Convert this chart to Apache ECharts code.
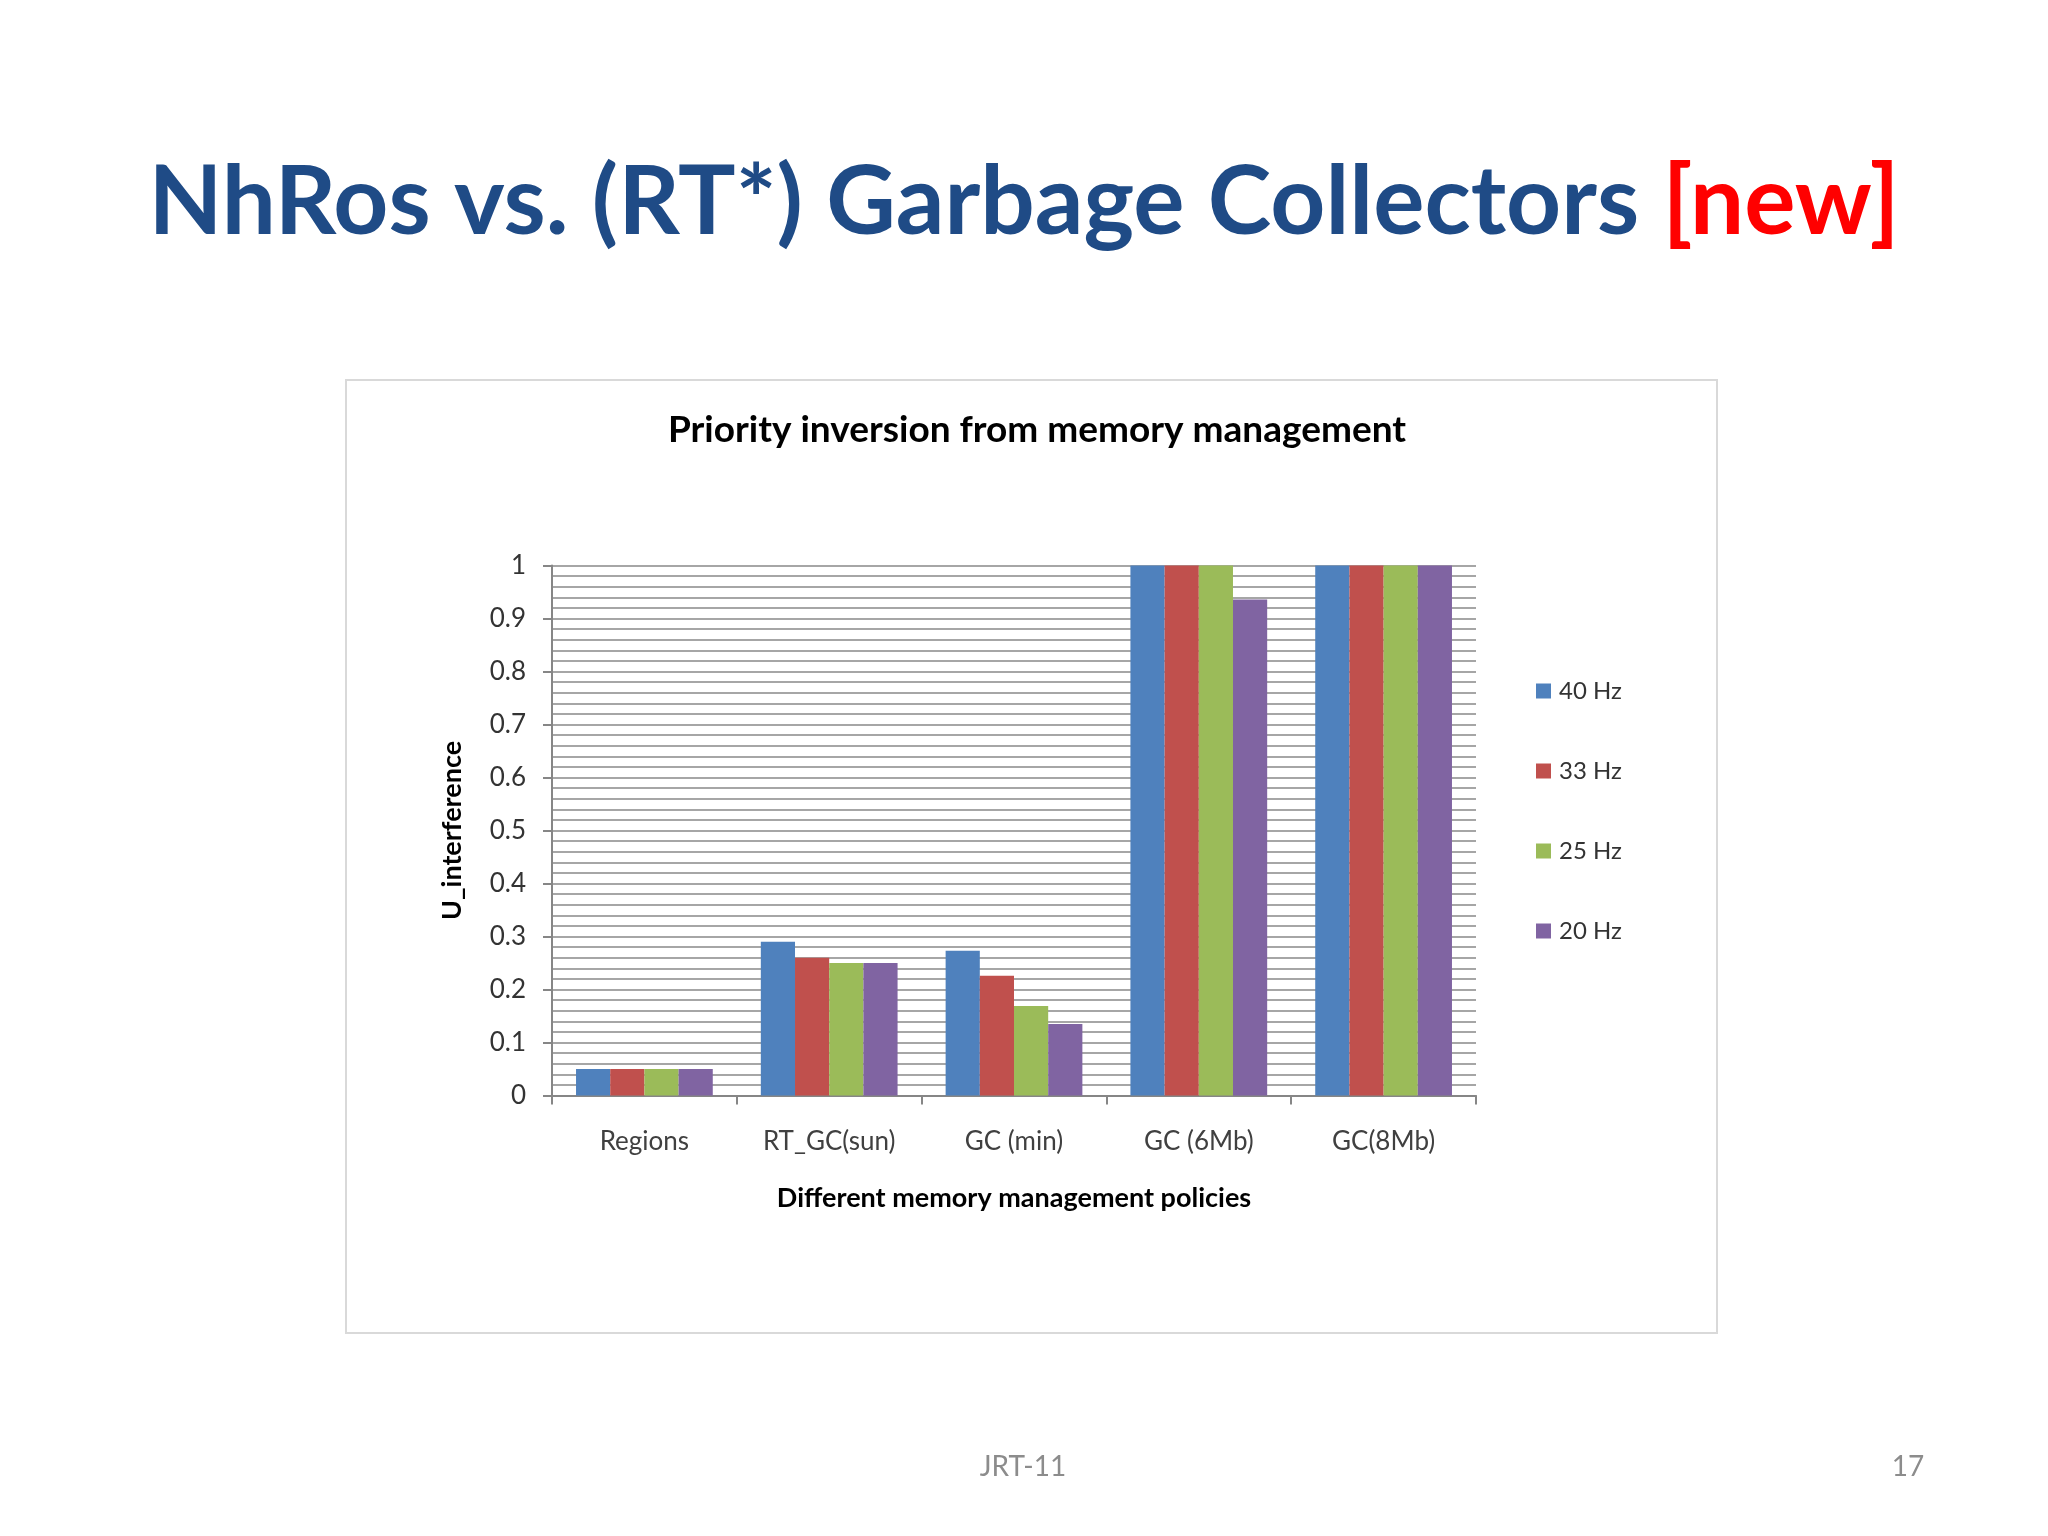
<!DOCTYPE html>
<html>
<head>
<meta charset="utf-8">
<script src="https://cdn.jsdelivr.net/npm/echarts@6/dist/echarts.min.js"></script>
<style>
html,body{margin:0;padding:0;background:#fff;}
#c{width:2048px;height:1536px;}
</style>
</head>
<body>
<div id="c"></div>
<script>
const categories = ['Regions', 'RT_GC(sun)', 'GC (min)', 'GC (6Mb)', 'GC(8Mb)'];
const seriesNames = ['40 Hz', '33 Hz', '25 Hz', '20 Hz'];
const hz40 = [0.05, 0.29, 0.273, 1.0, 1.0];
const hz33 = [0.05, 0.26, 0.226, 1.0, 1.0];
const hz25 = [0.05, 0.25, 0.169, 1.0, 1.0];
const hz20 = [0.05, 0.25, 0.135, 0.936, 1.0];
const colors = ['#4F81BD', '#C0504D', '#9BBB59', '#8064A2'];

const FONT = 'Lato';
const chart = echarts.init(document.getElementById('c'));
const values = [hz40, hz33, hz25, hz20];

chart.setOption({
  backgroundColor: '#ffffff',
  animation: false,
  color: colors,
  title: [{
    text: '{a|NhRos vs. (RT*) Garbage Collectors }{b|[new]}',
    left: 'center',
    top: 150,
    textStyle: {
      rich: {
        a: { fontFamily: FONT, fontWeight: 'bold', fontSize: 96, color: '#1F4B86' },
        b: { fontFamily: FONT, fontWeight: 'bold', fontSize: 96, color: '#FF0000' }
      }
    }
  }, {
    text: 'Priority inversion from memory management',
    left: 1032,
    textAlign: 'center',
    top: 407,
    textStyle: { fontFamily: FONT, fontWeight: 'bold', fontSize: 37, color: '#000' }
  }],
  graphic: [{
    type: 'rect',
    shape: { x: 346, y: 380, width: 1371, height: 953 },
    style: { fill: '#ffffff', stroke: '#D9D9D9', lineWidth: 2 },
    z: -10
  }, {
    type: 'text',
    x: 1023, y: 1467,
    style: { text: 'JRT-11', fill: '#8C8C8C', font: '28px ' + FONT, textAlign: 'center', textVerticalAlign: 'middle' }
  }, {
    type: 'text',
    x: 1908, y: 1467,
    style: { text: '17', fill: '#8C8C8C', font: '28px ' + FONT, textAlign: 'center', textVerticalAlign: 'middle' }
  }],
  legend: {
    orient: 'vertical',
    left: 1531,
    top: 674,
    itemWidth: 15,
    itemHeight: 15,
    itemGap: 56,
    icon: 'rect',
    textStyle: { fontFamily: FONT, fontSize: 24, color: '#333', lineHeight: 24, padding: [0, 0, 0, 3] },
    data: seriesNames
  },
  grid: { left: 552, top: 565.5, right: 572, bottom: 440.5, containLabel: false },
  xAxis: {
    type: 'category',
    data: categories,
    name: 'Different memory management policies',
    nameLocation: 'middle',
    nameGap: 89,
    nameTextStyle: { fontFamily: FONT, fontWeight: 'bold', fontSize: 27, color: '#000' },
    axisLine: { lineStyle: { color: '#868686', width: 2 } },
    axisTick: { show: true, length: 9, lineStyle: { color: '#868686', width: 2 } },
    axisLabel: { fontFamily: FONT, fontSize: 26, color: '#404040', margin: 33 }
  },
  yAxis: {
    type: 'value',
    min: 0, max: 1, interval: 0.1,
    splitNumber: 10,
    name: 'U_interference',
    nameLocation: 'middle',
    nameGap: 86,
    nameTextStyle: { fontFamily: FONT, fontWeight: 'bold', fontSize: 27, color: '#000' },
    axisLine: { show: true, lineStyle: { color: '#868686', width: 2 } },
    axisTick: { show: true, length: 9, lineStyle: { color: '#868686', width: 2 } },
    axisLabel: { fontFamily: FONT, fontSize: 26, color: '#333', margin: 26 },
    splitLine: { show: true, lineStyle: { color: '#A6A6A6', width: 2 } },
    minorTick: { show: false, splitNumber: 5 },
    minorSplitLine: { show: true, lineStyle: { color: '#A6A6A6', width: 2 } }
  },
  series: seriesNames.map((n, i) => ({
    name: n,
    type: 'bar',
    data: values[i],
    barGap: '0%',
    barCategoryGap: '26%',
    itemStyle: { color: colors[i] }
  }))
});
</script>
</body>
</html>
